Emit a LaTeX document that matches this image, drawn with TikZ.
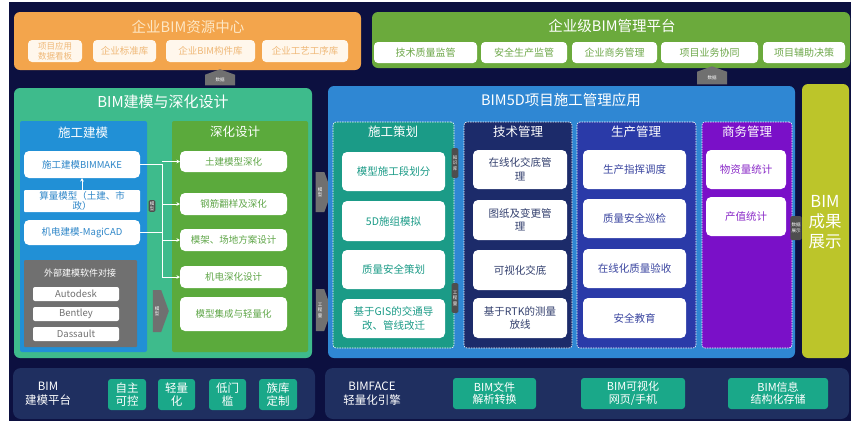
\documentclass[tikz,border=0pt]{standalone}
\usepackage{fontspec}
\setmainfont{Noto Sans CJK SC}
\usetikzlibrary{arrows.meta,shapes.arrows}
\definecolor{navy}{HTML}{0C1040}
\definecolor{orng}{HTML}{F3A54C}
\definecolor{orngtx}{HTML}{EFB877}
\definecolor{orngbx}{HTML}{FFF7EC}
\definecolor{orngttl}{HTML}{FDE7C5}
\definecolor{tgreen}{HTML}{6BAA3C}
\definecolor{tgreentx}{HTML}{6EA84A}
\definecolor{lpanel}{HTML}{3EBB8C}
\definecolor{lblue}{HTML}{2190D6}
\definecolor{lbluetx}{HTML}{2E86C8}
\definecolor{lgreen}{HTML}{5BAA3C}
\definecolor{lgreentx}{HTML}{5FA648}
\definecolor{gry}{HTML}{707070}
\definecolor{tagg}{HTML}{4E4E4E}
\definecolor{mpanel}{HTML}{2F87D3}
\definecolor{cteal}{HTML}{1B9B87}
\definecolor{cnavy}{HTML}{1C2B6A}
\definecolor{cnavytx}{HTML}{33406E}
\definecolor{cindigo}{HTML}{2A3AA8}
\definecolor{cindigotx}{HTML}{3A45A0}
\definecolor{cpurple}{HTML}{7A10C8}
\definecolor{cpurpletx}{HTML}{8A2AC8}
\definecolor{ylw}{HTML}{BCC52A}
\definecolor{bpanel}{HTML}{1F2F60}
\definecolor{chip}{HTML}{1AA889}
\newcommand\fs[2]{\fontsize{#1}{#2}\selectfont}
\newcommand\bx[7][]{\node[#1, minimum width={#4-#2}, minimum height={#5-#3}] (#6) at ({(#2+#4)/2},{(#3+#5)/2}) {#7};}
\tikzset{
  panel/.style={rounded corners=6pt, inner sep=0pt, outer sep=0pt},
  wbox/.style={fill=white, rounded corners=5pt, inner sep=1pt, outer sep=0pt, align=center, font=\fs{10.5}{13.5}},
  ttl/.style={text=white, font=\fs{12}{14}, inner sep=0pt},
  col/.style={panel, rounded corners=3pt, draw=white!75, dash pattern=on 1.5pt off 1pt, line width=0.6pt},
  tag/.style={fill=tagg, rounded corners=1.5pt, text=white, font=\fs{4.5}{5.5}, align=center, inner sep=1.2pt, outer sep=0pt},
  atag/.style={single arrow, fill=gry, single arrow head extend=0pt, single arrow tip angle=140, text=white, font=\fs{4.5}{5.5}, align=center, inner sep=1pt, outer sep=0pt},
  conn/.style={white, line width=0.8pt},
  carr/.style={conn, -{Stealth[length=3.5pt,width=3.5pt]}},
  chipbox/.style={fill=chip, rounded corners=3pt, text=white, align=center, font=\fs{11.5}{12.5}, inner sep=0pt, outer sep=0pt},
  lbox/.style={wbox, font=\fs{9.5}{11}},
  tbox/.style={wbox, font=\fs{9.5}{11}, rounded corners=4pt},
}
\begin{document}
\begin{tikzpicture}[x=1pt,y=-1pt]
\useasboundingbox (0,0) rectangle (851,421);
\fill[white] (0,0) rectangle (851,421);
\fill[navy] (9,2) rectangle (851,421);

% ---------- top: resource centre ----------
\bx[panel, fill=orng]{14}{12}{361}{70}{res}{}
\node[ttl, text=orngttl, font=\fs{14.5}{16}] (resT) at (188,27) {企业BIM资源中心};
\bx[tbox, fill=orngbx, text=orngtx, font=\fs{8.5}{10}]{28}{40}{82}{62}{r1}{项目应用\\数据看板}
\bx[tbox, fill=orngbx, text=orngtx]{93}{40}{156}{62}{r2}{企业标准库}
\bx[tbox, fill=orngbx, text=orngtx]{166}{40}{255}{62}{r3}{企业BIM构件库}
\bx[tbox, fill=orngbx, text=orngtx]{262}{40}{348}{62}{r4}{企业工艺工序库}

% ---------- top: management platform ----------
\bx[panel, fill=tgreen]{372}{12}{850}{68}{mgt}{}
\node[ttl, font=\fs{14.5}{16}] (mgtT) at (612,26) {企业级BIM管理平台};
\bx[tbox, text=tgreentx, font=\fs{10}{11}]{374}{42}{477}{63}{m1}{技术质量监管}
\bx[tbox, text=tgreentx, font=\fs{10}{11}]{481}{42}{567}{63}{m2}{安全生产监管}
\bx[tbox, text=tgreentx, font=\fs{10}{11}]{572}{42}{657}{63}{m3}{企业商务管理}
\bx[tbox, text=tgreentx, font=\fs{10}{11}]{661}{42}{758}{63}{m4}{项目业务协同}
\bx[tbox, text=tgreentx, font=\fs{10}{11}]{763}{42}{845}{63}{m5}{项目辅助决策}

% ---------- left panel ----------
\bx[panel, fill=lpanel]{14}{88}{312}{358}{lp}{}
\node[ttl, font=\fs{15}{17}] (lpT) at (163,102) {BIM建模与深化设计};
\bx[panel, rounded corners=2pt, fill=lblue]{20}{121}{147}{352}{bl}{}
\node[ttl, font=\fs{12.5}{14}] (blT) at (83,133) {施工建模};
\bx[lbox, text=lbluetx]{24}{151}{140}{178}{bim}{施工建模BIMMAKE}
\bx[lbox, text=lbluetx, rounded corners=1pt, font=\fs{9.5}{10.5}]{24}{190}{140}{212}{sl}{算量模型（土建、市\\政）}
\bx[lbox, text=lbluetx]{24}{220}{140}{245}{mc}{机电建模-MagiCAD}
\bx[panel, rounded corners=1pt, fill=gry]{24}{260}{137}{347}{ext}{}
\node[ttl, font=\fs{9}{10}] (extT) at (80,273) {外部建模软件对接};
\bx[lbox, text=gry, rounded corners=2pt, font=\fs{9.5}{10}]{33}{287}{119}{301}{e1}{Autodesk}
\bx[lbox, text=gry, rounded corners=2pt, font=\fs{9.5}{10}]{33}{307}{119}{321}{e2}{Bentley}
\bx[lbox, text=gry, rounded corners=2pt, font=\fs{9.5}{10}]{33}{327}{119}{341}{e3}{Dassault}

\bx[panel, rounded corners=2pt, fill=lgreen]{172}{121}{308}{352}{gr}{}
\node[ttl, font=\fs{12.5}{14}] (grT) at (235,132) {深化设计};
\bx[lbox, text=lgreentx]{180}{151}{287}{172}{g1}{土建模型深化}
\bx[lbox, text=lgreentx]{180}{193}{287}{215}{g2}{钢筋翻样及深化}
\bx[lbox, text=lgreentx]{180}{229}{287}{251}{g3}{模架、场地方案设计}
\bx[lbox, text=lgreentx]{180}{266}{287}{288}{g4}{机电深化设计}
\bx[lbox, text=lgreentx]{180}{297}{287}{331}{g5}{模型集成与轻量化}

\coordinate (trunk) at (162,0);
\draw[conn] (bim.east) -- (bim.east -| trunk) -- (g4.west -| trunk);
\draw[conn] (mc.east) -- (mc.east -| trunk);
\foreach \g in {g1,g2,g3,g4} \draw[carr] (\g.west -| trunk) -- (\g.west);
\draw[carr] (sl.north) -- (bim.south);

\node[tag] (tm1) at (152,206) {模\\型};
\node[atag, minimum width=42pt, minimum height=16pt] (tm2) at (157,311) {模\\型};

% arrows between panels
\node[atag, minimum width=40pt, minimum height=16pt] (am) at (320,192) {模\\型};
\node[atag, minimum width=42pt, minimum height=16pt] (aq) at (320,310) {工\\程\\量};
\node[atag, shape border rotate=90, minimum width=30pt, minimum height=16pt] (ad1) at (220,80) {数据};
\node[atag, shape border rotate=90, minimum width=30pt, minimum height=18pt] (ad2) at (712,78) {数据};

% ---------- middle panel ----------
\bx[panel, fill=mpanel]{328}{86}{795}{358}{mp}{}
\node[ttl, font=\fs{14.5}{16}] (mpT) at (561,100) {BIM5D项目施工管理应用};

\bx[col, fill=cteal]{333}{122}{454}{348}{c1}{}
\node[ttl, font=\fs{12.5}{14}] (c1T) at (393,132) {施工策划};
\bx[wbox, text=cteal]{342}{152}{445}{191}{s1}{模型施工段划分}
\bx[wbox, text=cteal]{342}{201}{445}{241}{s2}{5D施组模拟}
\bx[wbox, text=cteal]{342}{250}{445}{289}{s3}{质量安全策划}
\bx[wbox, text=cteal]{342}{299}{445}{338}{s4}{基于GIS的交通导\\改、管线改迁}

\bx[col, fill=cnavy]{464}{122}{572}{348}{c2}{}
\node[ttl, font=\fs{12.5}{14}] (c2T) at (518,132) {技术管理};
\bx[wbox, text=cnavytx]{473}{150}{567}{189}{j1}{在线化交底管\\理}
\bx[wbox, text=cnavytx]{473}{200}{567}{240}{j2}{图纸及变更管\\理}
\bx[wbox, text=cnavytx]{473}{250}{567}{290}{j3}{可视化交底}
\bx[wbox, text=cnavytx]{473}{298}{567}{338}{j4}{基于RTK的测量\\放线}

\bx[col, fill=cindigo]{577}{122}{696}{348}{c3}{}
\node[ttl, font=\fs{12.5}{14}] (c3T) at (636,132) {生产管理};
\bx[wbox, text=cindigotx]{583}{150}{686}{189}{p1}{生产指挥调度}
\bx[wbox, text=cindigotx]{583}{199}{686}{238}{p2}{质量安全巡检}
\bx[wbox, text=cindigotx]{583}{249}{686}{288}{p3}{在线化质量验收}
\bx[wbox, text=cindigotx]{583}{298}{686}{338}{p4}{安全教育}

\bx[col, fill=cpurple]{702}{122}{792}{348}{c4}{}
\node[ttl, font=\fs{12.5}{14}] (c4T) at (747,132) {商务管理};
\bx[wbox, text=cpurpletx]{706}{150}{786}{189}{b1}{物资量统计}
\bx[wbox, text=cpurpletx]{706}{197}{786}{236}{b2}{产值统计}

\node[tag, minimum height=30pt] (tk) at (455,163) {知\\识\\库};
\node[tag, minimum height=30pt] (tq) at (455,298) {工\\程\\量};

% ---------- right ----------
\bx[panel, fill=ylw]{802}{84}{849}{358}{yr}{}
\node[text=white, font=\fs{16.5}{20}, align=center, inner sep=0pt] (yrT) at (825,222) {BIM\\成果\\展示};
\node[tag, minimum height=24pt] (td) at (796,228) {数据\\展示};

% ---------- bottom ----------
\bx[panel, rounded corners=8pt, fill=bpanel]{13}{368}{315}{419}{bp1}{}
\node[text=white, font=\fs{11.5}{14}, align=center, inner sep=0pt] (bp1T) at (48,394) {BIM\\建模平台};
\bx[chipbox]{108}{379}{146}{410}{k1}{自主\\可控}
\bx[chipbox]{158}{379}{195}{410}{k2}{轻量\\化}
\bx[chipbox]{209}{379}{246}{410}{k3}{低门\\槛}
\bx[chipbox]{259}{379}{297}{410}{k4}{族库\\定制}

\bx[panel, rounded corners=8pt, fill=bpanel]{325}{368}{849}{419}{bp2}{}
\node[text=white, font=\fs{11.5}{14}, align=center, inner sep=0pt] (bp2T) at (372,394) {BIMFACE\\轻量化引擎};
\bx[chipbox, font=\fs{11}{12.5}]{453}{378}{536}{409}{f1}{BIM文件\\解析转换}
\bx[chipbox, font=\fs{11}{12.5}]{581}{378}{685}{409}{f2}{BIM可视化\\网页/手机}
\bx[chipbox, font=\fs{11}{12.5}]{728}{378}{828}{409}{f3}{BIM信息\\结构化存储}
\end{tikzpicture}
\end{document}
